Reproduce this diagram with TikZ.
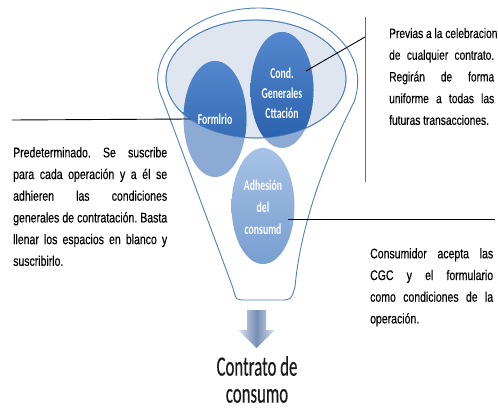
\documentclass[tikz,border=0pt]{standalone}
\usepackage{fontspec}
\newfontfamily\bodyfont[FakeStretch=0.75,FakeBold=0.25]{Liberation Sans}
\newfontfamily\ballfont[FakeStretch=0.65]{Carlito}
\newfontfamily\titlefont[FakeStretch=0.6,FakeBold=0.3]{Carlito}
\usepackage{xcolor}
\usetikzlibrary{shapes,positioning}

\definecolor{funnelblue}{RGB}{79,129,189}
\definecolor{rimfill}{RGB}{224,230,240}
\definecolor{ballDark}{RGB}{40,95,170}
\definecolor{ballTop}{RGB}{84,136,206}
\definecolor{ballLow}{RGB}{140,170,212}
\definecolor{adhTop}{RGB}{166,194,230}
\definecolor{adhBot}{RGB}{120,158,208}
\definecolor{arrowDark}{RGB}{118,142,182}
\definecolor{arrowLight}{RGB}{220,228,240}
\definecolor{guidegrey}{RGB}{110,110,110}

\begin{document}
\frenchspacing
\begin{tikzpicture}[x=1pt,y=-1pt,
    ball/.style={ellipse, inner sep=0pt, minimum width=63pt, minimum height=116pt},
    balltext/.style={text=white, align=center, inner sep=0pt,
        font=\ballfont\bfseries\fontsize{15}{20}\selectfont},
    notetext/.style={anchor=north west, inner sep=0pt, align=justify,
        font=\bodyfont\fontsize{14}{21.7}\selectfont}]
    \useasboundingbox (0,0) rectangle (498,409);

    % funnel
    \draw[funnelblue, fill=white, line width=0.9pt] (233,288) -- (163,100)
        .. controls (140,55) and (195,8) .. (258,8)
        .. controls (322,8) and (372,52) .. (354,102)
        .. controls (322,165) and (300,230) .. (295,287)
        .. controls (291,300) .. (280,300) -- (246,300)
        .. controls (236,300) .. (233,288) -- cycle;
    \draw[funnelblue, fill=rimfill, line width=0.9pt] (256,79) ellipse [x radius=90, y radius=59];

    % balls
    \node[ball, fill=ballLow] (frm) at (215,119) {};
    \node[ball, fill=ballLow] (cgc) at (282,90) {};
    \begin{scope}
        \clip (256,79) ellipse [x radius=90, y radius=59];
        \shade[top color=ballTop, bottom color=ballDark] (frm.center) ellipse [x radius=31.5, y radius=58];
        \shade[top color=ballTop, bottom color=ballDark] (cgc.center) ellipse [x radius=31.5, y radius=58];
    \end{scope}
    \draw[funnelblue, line width=0.6pt] (256,79) ellipse [x radius=90, y radius=59];
    \node[ball, top color=adhTop, bottom color=adhBot] (adh) at (263,206) {};

    \node[balltext] (frmlabel) at (frm) {Formlrio};
    \node[balltext] (cgclabel) at ([yshift=-3pt]cgc.center) {Cond.\\Generales\\Cttación};
    \node[balltext, font=\ballfont\bfseries\fontsize{15}{22}\selectfont] (adhlabel) at ([yshift=-1pt]adh.center) {Adhesión\\del\\consumd};

    % arrow and result
    \shade[left color=arrowLight, right color=arrowLight, middle color=arrowDark]
        (247,310) -- (266,310) -- (266,330) -- (275,330) -- (256.5,348)
        -- (238,330) -- (247,330) -- cycle;
    \node[font=\titlefont\fontsize{28}{27}\selectfont, align=center, inner sep=0pt,
        anchor=north, text=black!90] (contrato) at (257,356) {Contrato de\\consumo};

    % notes
    \coordinate (formend) at (12,120);
    \draw[line width=0.9pt] (formend) -- ([xshift=7pt]frm.west);
    \node[notetext, text width=154pt] (formnote) at (13,147)
        {Predeterminado. Se suscribe\linebreak para cada operación y a él se\linebreak
         adhieren las condiciones\linebreak generales de contratación. Basta\linebreak
         llenar los espacios en blanco y\linebreak suscribirlo.};

    \coordinate (guidetop) at (365,17);
    \coordinate (guidebot) at (365,182);
    \coordinate (guidemid) at (365,37);
    \coordinate (cgctip) at (306,71);
    \draw[guidegrey, line width=0.9pt] (guidetop) -- (guidebot);
    \draw[line width=0.9pt] (guidemid) -- (cgctip);
    \node[notetext, text width=105pt, font=\bodyfont\fontsize{13.6}{21.7}\selectfont] (cgcnote) at (389,28)
        {\makebox[\linewidth][l]{Previas a la celebracion}\newline de cualquier contrato.\linebreak
         Regirán de forma\linebreak uniforme a todas las\linebreak futuras transacciones.};

    \coordinate (adhtip) at (288,219);
    \coordinate (adhend) at (495,219);
    \draw[line width=0.9pt] (adhtip) -- (adhend);
    \node[notetext, text width=123pt] (adhnote) at (370,248)
        {Consumidor acepta las\linebreak CGC y el formulario\linebreak
         como condiciones de la\linebreak operación.};
\end{tikzpicture}
\end{document}
